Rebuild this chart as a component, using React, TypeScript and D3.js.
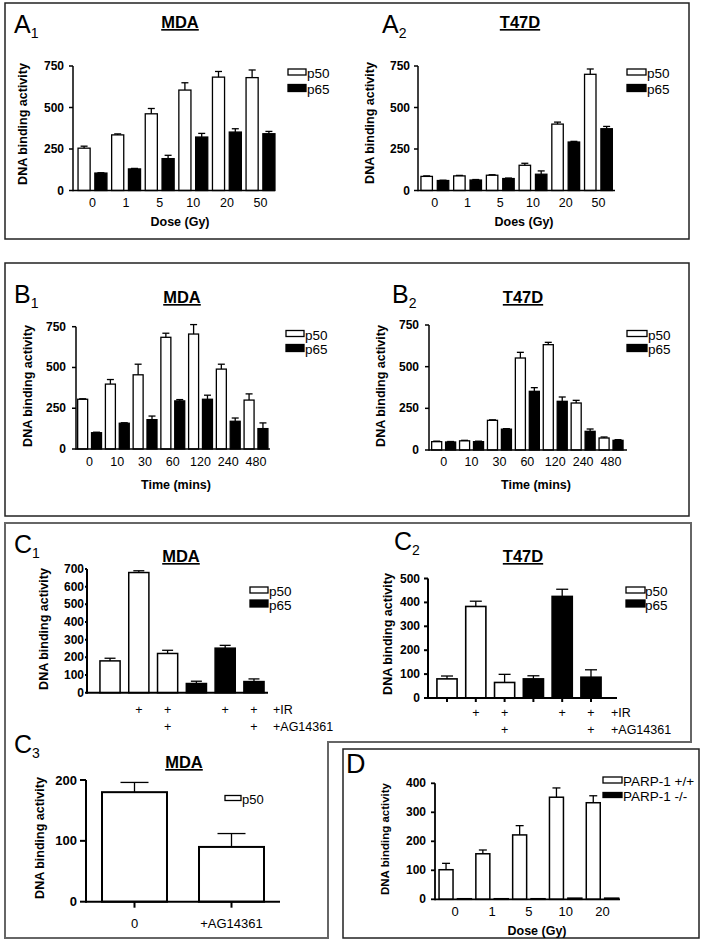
import React from "react";
import * as d3 from "d3";

const FONT = "'Liberation Sans', Arial, Helvetica, sans-serif";

// ---------- DATA ----------
const seriesNames = ["p50", "p65"];

// A: dose response
const doseLabels = ["0", "1", "5", "10", "20", "50"];
const a1P50 = [255, 335, 462, 605, 683, 680];
const a1P50Err = [12, 6, 32, 44, 34, 46];
const a1P65 = [105, 130, 192, 322, 352, 342];
const a1P65Err = [2, 3, 20, 22, 20, 14];
const a2P50 = [85, 88, 92, 152, 400, 700];
const a2P50Err = [3, 3, 3, 12, 12, 32];
const a2P65 = [60, 63, 72, 98, 292, 372];
const a2P65Err = [2, 3, 3, 20, 4, 14];
const abTicks = [0, 250, 500, 750];

// B: time course
const timeLabels = ["0", "10", "30", "60", "120", "240", "480"];
const b1P50 = [305, 398, 455, 685, 705, 490, 300];
const b1P50Err = [3, 28, 65, 25, 58, 30, 38];
const b1P65 = [100, 158, 180, 295, 305, 170, 125];
const b1P65Err = [3, 3, 22, 8, 25, 20, 35];
const b2P50 = [50, 55, 178, 552, 632, 282, 72];
const b2P50Err = [3, 3, 3, 34, 14, 16, 6];
const b2P65 = [48, 50, 125, 352, 292, 112, 58];
const b2P65Err = [3, 3, 3, 22, 26, 14, 4];

// C1 / C2: IR +/- AG14361
const cSeries = ["p50", "p50", "p50", "p65", "p65", "p65"];
const cIR = ["", "+", "+", "", "+", "+"];
const cAG = ["", "", "+", "", "", "+"];
const c1Values = [180, 680, 222, 52, 252, 63];
const c1Errs = [15, 10, 18, 13, 16, 15];
const c1Ticks = [0, 100, 200, 300, 400, 500, 600, 700];
const c2Values = [80, 383, 65, 80, 425, 87];
const c2Errs = [12, 22, 34, 13, 30, 31];
const c2Ticks = [0, 100, 200, 300, 400, 500];

// C3
const c3Labels = ["0", "+AG14361"];
const c3Values = [180, 90];
const c3Errs = [16, 22];
const c3Ticks = [0, 100, 200];

// D: PARP-1
const dSeriesNames = ["PARP-1 +/+", "PARP-1 -/-"];
const dDoseLabels = ["0", "1", "5", "10", "20"];
const dWT = [102, 157, 222, 352, 333];
const dWTErr = [22, 13, 32, 32, 24];
const dKO = [2, 2, 2, 4, 4];
const dKOErr = [0, 0, 0, 0, 0];
const dTicks = [0, 100, 200, 300, 400];

// ---------- HELPERS ----------
type Bar = { value: number; err: number; fill: string };

const fillFor = (s: string) => (s === "p65" || s === "PARP-1 -/-" ? "#000" : "#fff");

function grouped(cats: string[], names: string[], vals: number[][], errs: number[][]): Bar[] {
  const out: Bar[] = [];
  cats.forEach((_, i) => {
    names.forEach((n, s) => out.push({ value: vals[s][i], err: errs[s][i], fill: fillFor(n) }));
  });
  return out;
}

type PanelProps = {
  bars: Bar[];
  groupSize: number;
  cats: string[];
  axisX: number;
  axisEnd: number;
  y0: number;
  yTop: number;
  yMax: number;
  yTicks: number[];
  bandEnd: number;
  pi: number;
  po: number;
  capW: number;
  tickLen: number;
  tickPad: number;
  tickFont: number;
  catY: number;
  catFont: number;
  xTickLen?: number;
  lineW: number;
  barStroke: number;
  axisColor?: string;
};

function Panel(p: PanelProps) {
  const y = d3.scaleLinear().domain([0, p.yMax]).range([p.y0, p.yTop]);
  const x = d3
    .scaleBand<number>()
    .domain(p.bars.map((_, i) => i))
    .range([p.axisX, p.bandEnd])
    .paddingInner(p.pi)
    .paddingOuter(p.po);
  const bw = x.bandwidth();
  const ac = p.axisColor || "#000";
  return (
    <g>
      {p.bars.map((b, i) => {
        const bx = x(i) as number;
        const top = y(b.value);
        const cx = bx + bw / 2;
        return (
          <g key={i}>
            <rect x={bx} y={top} width={bw} height={Math.max(0, p.y0 - top)} fill={b.fill} stroke="#000" strokeWidth={p.barStroke} />
            {b.err > 0 && (
              <g stroke="#000" strokeWidth={1.3}>
                <line x1={cx} x2={cx} y1={top} y2={y(b.value + b.err)} />
                <line x1={cx - p.capW / 2} x2={cx + p.capW / 2} y1={y(b.value + b.err)} y2={y(b.value + b.err)} />
              </g>
            )}
            {p.xTickLen ? <line x1={cx} x2={cx} y1={p.y0} y2={p.y0 + p.xTickLen} stroke={ac} strokeWidth={p.lineW} /> : null}
          </g>
        );
      })}
      <line x1={p.axisX} x2={p.axisX} y1={p.y0 + p.lineW / 2} y2={p.yTop} stroke={ac} strokeWidth={p.lineW} />
      <line x1={p.axisX} x2={p.axisEnd} y1={p.y0} y2={p.y0} stroke={ac} strokeWidth={p.lineW} />
      {p.yTicks.map((t) => (
        <g key={t}>
          <line x1={p.axisX - p.tickLen} x2={p.axisX} y1={y(t)} y2={y(t)} stroke={ac} strokeWidth={p.lineW} />
          <text x={p.axisX - p.tickLen - p.tickPad} y={y(t)} textAnchor="end" dominantBaseline="central" fontFamily={FONT} fontWeight="bold" fontSize={p.tickFont} fill="#000">
            {t}
          </text>
        </g>
      ))}
      {p.cats.map((c, gi) => {
        const first = x(gi * p.groupSize) as number;
        const last = (x(gi * p.groupSize + p.groupSize - 1) as number) + bw;
        return (
          <text key={c + gi} x={(first + last) / 2} y={p.catY} textAnchor="middle" dominantBaseline="central" fontFamily={FONT} fontSize={p.catFont} fill="#000">
            {c}
          </text>
        );
      })}
    </g>
  );
}

function Legend(p: { x: number; tx: number; items: { label: string; fill: string; y: number; h: number }[]; w: number; font: number }) {
  return (
    <g>
      {p.items.map((it) => (
        <g key={it.label}>
          <rect x={p.x} y={it.y - it.h / 2} width={p.w} height={it.h} fill={it.fill} stroke="#000" strokeWidth={1.3} />
          <text x={p.tx} y={it.y + 1.5} dominantBaseline="central" fontFamily={FONT} fontSize={p.font} fill="#000">
            {it.label}
          </text>
        </g>
      ))}
    </g>
  );
}

function PanelLetter(p: { x: number; y: number; letter: string; sub?: string; size?: number }) {
  const s = p.size || 25;
  return (
    <text x={p.x} y={p.y} fontFamily={FONT} fontSize={s} fill="#000">
      {p.letter}
      {p.sub && (
        <tspan fontSize={14} dy={5}>
          {p.sub}
        </tspan>
      )}
    </text>
  );
}

function Title(p: { x: number; y: number; text: string }) {
  return (
    <text x={p.x} y={p.y} textAnchor="middle" fontFamily={FONT} fontWeight="bold" fontSize={16.5} fill="#000" style={{ textDecoration: "underline" }}>
      {p.text}
    </text>
  );
}

function YLabel(p: { x: number; y: number; size?: number }) {
  return (
    <text transform={`translate(${p.x},${p.y}) rotate(-90)`} textAnchor="middle" dominantBaseline="central" fontFamily={FONT} fontWeight="bold" fontSize={p.size || 12.5} fill="#000">
      DNA binding activity
    </text>
  );
}

function XTitle(p: { x: number; y: number; text: string }) {
  return (
    <text x={p.x} y={p.y} textAnchor="middle" fontFamily={FONT} fontWeight="bold" fontSize={12.5} fill="#000">
      {p.text}
    </text>
  );
}

function PlusRows(p: { centers: number[]; rows: string[][]; ys: number[]; labels: string[]; lx: number }) {
  return (
    <g fontFamily={FONT} fontSize={12.5} fill="#000">
      {p.rows.map((row, r) => (
        <g key={r}>
          {row.map((m, i) =>
            m ? (
              <text key={i} x={p.centers[i]} y={p.ys[r]} textAnchor="middle" dominantBaseline="central" fill="#000">
                {m}
              </text>
            ) : null
          )}
          <text x={p.lx} y={p.ys[r]} dominantBaseline="central" fill="#000">
            {p.labels[r]}
          </text>
        </g>
      ))}
    </g>
  );
}

function bandCenters(n: number, a: number, b: number, pi: number, po: number) {
  const x = d3.scaleBand<number>().domain(d3.range(n)).range([a, b]).paddingInner(pi).paddingOuter(po);
  return d3.range(n).map((i) => (x(i) as number) + x.bandwidth() / 2);
}

export default function App() {
  const a1Bars = grouped(doseLabels, seriesNames, [a1P50, a1P65], [a1P50Err, a1P65Err]);
  const a2Bars = grouped(doseLabels, seriesNames, [a2P50, a2P65], [a2P50Err, a2P65Err]);
  const b1Bars = grouped(timeLabels, seriesNames, [b1P50, b1P65], [b1P50Err, b1P65Err]);
  const b2Bars = grouped(timeLabels, seriesNames, [b2P50, b2P65], [b2P50Err, b2P65Err]);
  const c1Bars: Bar[] = c1Values.map((v, i) => ({ value: v, err: c1Errs[i], fill: fillFor(cSeries[i]) }));
  const c2Bars: Bar[] = c2Values.map((v, i) => ({ value: v, err: c2Errs[i], fill: fillFor(cSeries[i]) }));
  const c3Bars: Bar[] = c3Values.map((v, i) => ({ value: v, err: c3Errs[i], fill: "#fff" }));
  const dBars = grouped(dDoseLabels, dSeriesNames, [dWT, dKO], [dWTErr, dKOErr]);

  const excel = { tickLen: 4, lineW: 1.5, barStroke: 1.3, catFont: 12.5, tickFont: 12 };

  const c1Centers = bandCenters(6, 87, 277, 0.3, 0.45);
  const c2Centers = bandCenters(6, 428, 610, 0.3, 0.31);

  return (
    <svg width={702} height={945} style={{ position: "absolute", left: 0, top: 0, background: "#fff" }}>
      <rect x={0} y={0} width={702} height={945} fill="#fff" />
      {/* Boxes */}
      <rect x={5} y={3} width={684} height={236} fill="none" stroke="#222" strokeWidth={1.5} />
      <rect x={5} y={263} width={684} height={253} fill="none" stroke="#222" strokeWidth={1.5} />
      <path d="M5,523 H691 V742 H328 V938 H5 Z" fill="none" stroke="#666" strokeWidth={2} />
      <rect x={343} y={749} width={356} height={189} fill="none" stroke="#222" strokeWidth={1.5} />

      {/* ---- A1 ---- */}
      <PanelLetter x={14} y={33} letter="A" sub="1" />
      <Title x={180} y={28} text="MDA" />
      <YLabel x={23} y={124} />
      <Panel bars={a1Bars} groupSize={2} cats={doseLabels} axisX={73} axisEnd={275} y0={190.5} yTop={66} yMax={750} yTicks={abTicks}
        bandEnd={280} pi={0.28} po={0.3} capW={7} tickPad={5} catY={203} {...excel} />
      <XTitle x={180} y={226} text="Dose (Gy)" />
      <Legend x={288} tx={307} w={18} font={13.5} items={[
        { label: seriesNames[0], fill: "#fff", y: 72, h: 6 },
        { label: seriesNames[1], fill: "#000", y: 88, h: 7 },
      ]} />

      {/* ---- A2 ---- */}
      <PanelLetter x={382} y={33} letter="A" sub="2" />
      <Title x={520} y={28} text="T47D" />
      <YLabel x={370} y={123} />
      <Panel bars={a2Bars} groupSize={2} cats={doseLabels} axisX={418} axisEnd={615} y0={190.5} yTop={66} yMax={750} yTicks={abTicks}
        bandEnd={615.3} pi={0.3} po={0.18} capW={7} tickPad={4} catY={203} {...excel} />
      <XTitle x={524} y={226} text="Does (Gy)" />
      <Legend x={627} tx={647} w={19} font={13.5} items={[
        { label: seriesNames[0], fill: "#fff", y: 72, h: 6 },
        { label: seriesNames[1], fill: "#000", y: 88, h: 7 },
      ]} />

      {/* ---- B1 ---- */}
      <PanelLetter x={14} y={303} letter="B" sub="1" />
      <Title x={182} y={303} text="MDA" />
      <YLabel x={28} y={386} />
      <Panel bars={b1Bars} groupSize={2} cats={timeLabels} axisX={76} axisEnd={270} y0={449} yTop={326.7} yMax={750} yTicks={abTicks}
        bandEnd={269.6} pi={0.28} po={0.12} capW={7} tickPad={6} catY={462} {...excel} />
      <XTitle x={176} y={489} text="Time (mins)" />
      <Legend x={286} tx={305} w={18} font={13.5} items={[
        { label: seriesNames[0], fill: "#fff", y: 333.5, h: 6 },
        { label: seriesNames[1], fill: "#000", y: 348, h: 7 },
      ]} />

      {/* ---- B2 ---- */}
      <PanelLetter x={392} y={303} letter="B" sub="2" />
      <Title x={523} y={303} text="T47D" />
      <YLabel x={381} y={386} />
      <Panel bars={b2Bars} groupSize={2} cats={timeLabels} axisX={429} axisEnd={627} y0={450} yTop={325} yMax={750} yTicks={abTicks}
        bandEnd={625.7} pi={0.28} po={0.19} capW={7} tickPad={6} catY={462} {...excel} />
      <XTitle x={536} y={489} text="Time (mins)" />
      <Legend x={627} tx={648} w={20} font={13.5} items={[
        { label: seriesNames[0], fill: "#fff", y: 333.5, h: 6 },
        { label: seriesNames[1], fill: "#000", y: 348, h: 7 },
      ]} />

      {/* ---- C1 ---- */}
      <PanelLetter x={14} y={553} letter="C" sub="1" />
      <Title x={181} y={562} text="MDA" />
      <YLabel x={44} y={629} />
      <Panel bars={c1Bars} groupSize={1} cats={[]} axisX={87} axisEnd={268} y0={692.7} yTop={569} yMax={700} yTicks={c1Ticks}
        bandEnd={277} pi={0.3} po={0.45} capW={11} tickPad={1} catY={0} tickLen={2} lineW={2} barStroke={1.5} catFont={12} tickFont={12} />
      <PlusRows centers={c1Centers} rows={[cIR, cAG]} ys={[710, 727]} labels={["+IR", "+AG14361"]} lx={273} />
      <Legend x={250} tx={269} w={18} font={13.5} items={[
        { label: "p50", fill: "#fff", y: 590, h: 6 },
        { label: "p65", fill: "#000", y: 603.5, h: 7 },
      ]} />

      {/* ---- C2 ---- */}
      <PanelLetter x={394} y={550} letter="C" sub="2" />
      <Title x={523} y={562} text="T47D" />
      <YLabel x={388} y={634} />
      <Panel bars={c2Bars} groupSize={1} cats={[]} axisX={428} axisEnd={617} y0={698} yTop={578.5} yMax={500} yTicks={c2Ticks}
        bandEnd={610} pi={0.3} po={0.31} capW={12} tickPad={4} catY={0} tickLen={4} xTickLen={4} lineW={2} barStroke={1.6} catFont={12} tickFont={12} />
      <PlusRows centers={c2Centers} rows={[cIR, cAG]} ys={[713, 730]} labels={["+IR", "+AG14361"]} lx={611} />
      <Legend x={626} tx={645} w={19} font={13.5} items={[
        { label: "p50", fill: "#fff", y: 590, h: 6 },
        { label: "p65", fill: "#000", y: 603.5, h: 7 },
      ]} />

      {/* ---- C3 ---- */}
      <PanelLetter x={14} y={753} letter="C" sub="3" />
      <Title x={184} y={768} text="MDA" />
      <YLabel x={40} y={838} />
      <Panel bars={c3Bars} groupSize={1} cats={c3Labels} axisX={86} axisEnd={280} y0={901.7} yTop={780} yMax={200} yTicks={c3Ticks}
        bandEnd={280} pi={0.33} po={0.165} capW={28} tickPad={3} catY={923} tickLen={6} xTickLen={6} lineW={2} barStroke={2} catFont={13} tickFont={13} />
      <Legend x={225} tx={242} w={16} font={13} items={[{ label: "p50", fill: "#fff", y: 798, h: 5 }]} />

      {/* ---- D ---- */}
      <text x={346} y={773} fontFamily={FONT} fontSize={27} fill="#000">D</text>
      <YLabel x={385} y={839} size={11.5} />
      <Panel bars={dBars} groupSize={2} cats={dDoseLabels} axisX={435} axisEnd={620} y0={899.3} yTop={783.3} yMax={400} yTicks={dTicks}
        bandEnd={622.7} pi={0.24} po={0.22} capW={8} tickPad={5} catY={911} tickLen={4} lineW={1.8} barStroke={1.5} catFont={13} tickFont={12} />
      <XTitle x={537} y={935} text="Dose (Gy)" />
      <Legend x={603} tx={623} w={19} font={13.5} items={[
        { label: dSeriesNames[0], fill: "#fff", y: 780, h: 6 },
        { label: dSeriesNames[1], fill: "#000", y: 795, h: 5 },
      ]} />
    </svg>
  );
}
